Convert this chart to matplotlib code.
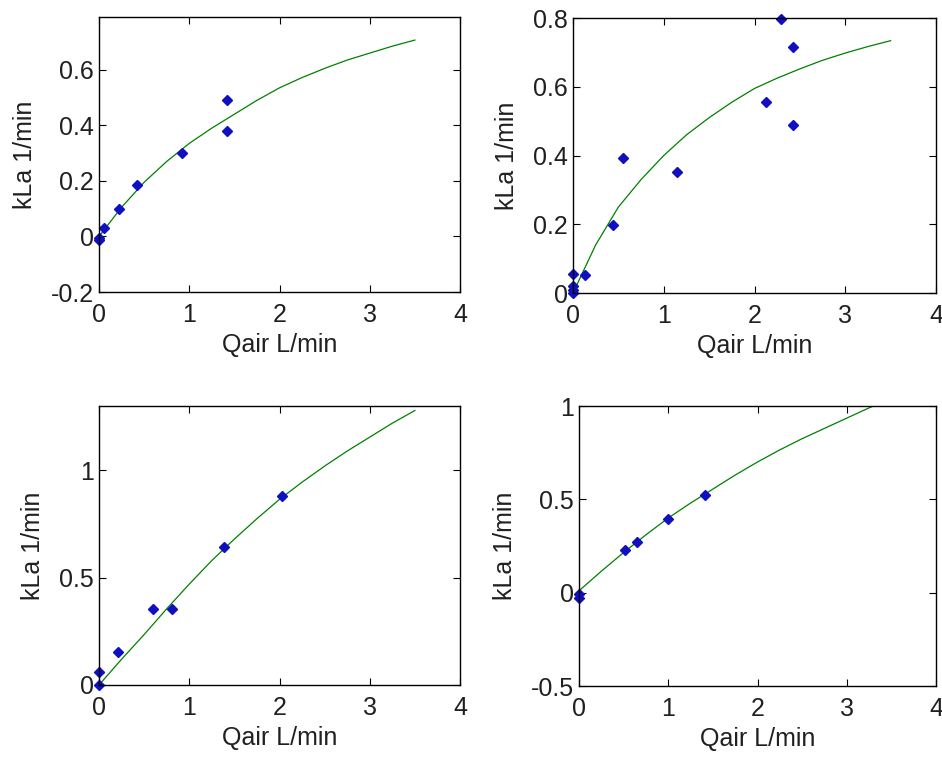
import numpy as np
import matplotlib.pyplot as plt

plt.rcParams['font.family'] = ['Liberation Sans', 'DejaVu Sans']

# fitted curve sample x values
CURVE_X = [0, 0.25, 0.5, 0.75, 1.0, 1.25, 1.5, 1.75, 2.0, 2.25, 2.5, 2.75, 3.0, 3.25, 3.5]

# top left
x1 = [0, 0, 0.055, 0.22, 0.42, 0.915, 1.42, 1.42]
y1 = [-0.007, -0.012, 0.032, 0.10, 0.185, 0.30, 0.49, 0.378]
c1 = [0, 0.105, 0.195, 0.27, 0.335, 0.39, 0.44, 0.49, 0.535, 0.572, 0.605, 0.635, 0.66, 0.685, 0.707]

# top right
x2 = [0, 0, 0, 0, 0.13, 0.445, 0.555, 1.15, 2.125, 2.29, 2.42, 2.42]
y2 = [0.056, 0.019, 0.01, 0.0, 0.052, 0.197, 0.392, 0.352, 0.557, 0.797, 0.716, 0.488]
c2 = [0, 0.14, 0.25, 0.33, 0.40, 0.46, 0.51, 0.555, 0.595, 0.625, 0.652, 0.677, 0.698, 0.717, 0.734]

# bottom left
x3 = [0, 0, 0.214, 0.60, 0.81, 1.39, 2.025]
y3 = [0, 0.059, 0.156, 0.356, 0.356, 0.644, 0.882]
c3 = [0, 0.12, 0.235, 0.355, 0.47, 0.58, 0.68, 0.775, 0.865, 0.945, 1.02, 1.09, 1.155, 1.22, 1.279]

# bottom right
x4 = [0, 0, 0.52, 0.65, 1.0, 1.41]
y4 = [-0.005, -0.03, 0.229, 0.271, 0.396, 0.521]
c4 = [0.01, 0.115, 0.215, 0.31, 0.40, 0.48, 0.555, 0.63, 0.70, 0.765, 0.825, 0.88, 0.935, 0.99, 1.04]

panels = [
    (x1, y1, c1, (-0.2, 0.79), [-0.2, 0, 0.2, 0.4, 0.6], ['-0.2', '0', '0.2', '0.4', '0.6']),
    (x2, y2, c2, (0, 0.8), [0, 0.2, 0.4, 0.6, 0.8], ['0', '0.2', '0.4', '0.6', '0.8']),
    (x3, y3, c3, (0, 1.3), [0, 0.5, 1], ['0', '0.5', '1']),
    (x4, y4, c4, (-0.5, 1), [-0.5, 0, 0.5, 1], ['-0.5', '0', '0.5', '1']),
]

W, H = 942, 758
# axes boxes in pixels: left, top, right, bottom
boxes = [(99, 17, 460, 292), (573, 18, 936, 293), (99, 406, 460, 685), (579, 406, 936, 686)]

fig = plt.figure(figsize=(9.42, 7.58), dpi=100)

for (xs, ys, cs, ylim, yt, ytl), (l, t, r, b) in zip(panels, boxes):
    ax = fig.add_axes([l / W, 1 - b / H, (r - l) / W, (b - t) / H])
    ax.plot(CURVE_X, cs, color=(0, 0.5, 0), lw=0.9)
    ax.plot(xs, ys, 'D', color='#1010c0', ms=5.5, mec='#1010c0', clip_on=False)
    ax.set_xlim(0, 4)
    ax.set_ylim(*ylim)
    ax.set_xticks([0, 1, 2, 3, 4])
    ax.set_xticklabels(['0', '1', '2', '3', '4'])
    ax.set_yticks(yt)
    ax.set_yticklabels(ytl)
    ax.tick_params(direction='in', length=5, width=0.8, top=True, right=True,
                   labelsize=18, labelcolor='#202020')
    ax.tick_params(axis='x', pad=8)
    ax.tick_params(axis='y', pad=3.5)
    for sp in ax.spines.values():
        sp.set_linewidth(1.0)
    ax.set_xlabel('Qair L/min', fontsize=18, labelpad=4, color='#202020')
    ax.set_ylabel('kLa 1/min', fontsize=18, labelpad=10, color='#202020')

fig.savefig('out.png', dpi=100)
